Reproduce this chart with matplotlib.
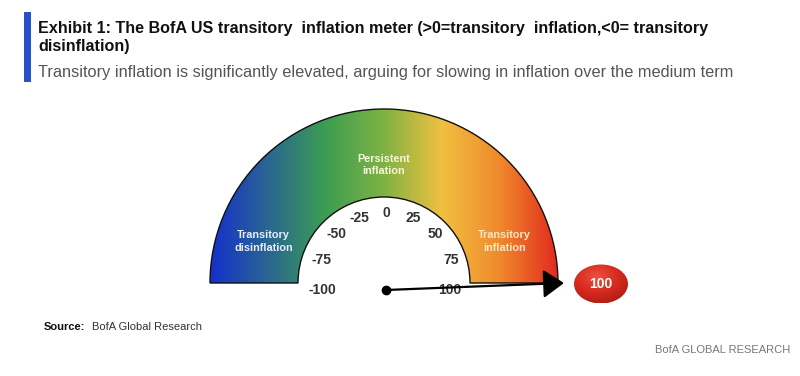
import numpy as np
import matplotlib
matplotlib.use("Agg")
import matplotlib.pyplot as plt
from matplotlib.patches import Wedge, Ellipse, Rectangle, FancyArrowPatch
from matplotlib.colors import LinearSegmentedColormap

# --- data ---
meter_value = 100
tick_values = [-100, -75, -50, -25, 0, 25, 50, 75, 100]
region_labels = ["Transitory\ndisinflation", "Persistent\ninflation", "Transitory\ninflation"]
region_values = [-78, 0, 78]
gradient_stops = ["#1530cc", "#2a6690", "#3c9e52", "#7fb244", "#f0c040", "#ef8a2c", "#e22a1e"]

title = ("Exhibit 1: The BofA US transitory  inflation meter (>0=transitory  inflation,<0= transitory\n"
         "disinflation)")
subtitle = "Transitory inflation is significantly elevated, arguing for slowing in inflation over the medium term"

FONT = ["Liberation Sans", "DejaVu Sans"]
plt.rcParams["font.family"] = FONT

W, H = 800, 376
fig = plt.figure(figsize=(W / 100, H / 100), dpi=100)
ax = fig.add_axes([0, 0, 1, 1])
ax.set_xlim(0, W)
ax.set_ylim(0, H)
ax.axis("off")


def Y(ypix):
    # pixel row (from top) -> axis y
    return H - ypix


# header
ax.add_patch(Rectangle((24, Y(82)), 7, 70, color="#2a50c8", lw=0))
ax.text(38, Y(21), title, fontsize=11.6, fontweight="bold",
        va="top", ha="left", color="#111111", linespacing=1.25)
ax.text(38, Y(73), subtitle, fontsize=11.8, va="center",
        ha="left", color="#555555")

# gauge geometry
cx, cy = 384, Y(283)
R_out, R_in = 174, 86


def val_to_angle(v):
    return np.deg2rad(90 - v * 0.9)


cmap = LinearSegmentedColormap.from_list("meter", gradient_stops)
grad = np.tile(np.linspace(0, 1, 256), (2, 1))
img = ax.imshow(grad, cmap=cmap, aspect="auto",
                extent=(cx - R_out, cx + R_out, cy, cy + R_out), zorder=1)
band = Wedge((cx, cy), R_out, 0, 180, width=R_out - R_in, facecolor="none",
             edgecolor="none")
ax.add_patch(band)
img.set_clip_path(band)
ax.add_patch(Wedge((cx, cy), R_out, 0, 180, width=R_out - R_in, facecolor="none",
                   edgecolor="#111111", lw=1.0, zorder=2))

# region labels
region_r = [128, 118, 128]
region_colors = ["#e8ecff", "#f4f8d8", "#fde6c8"]
for lab, v, rr, c in zip(region_labels, region_values, region_r, region_colors):
    a = val_to_angle(v)
    ax.text(cx + rr * np.cos(a), cy + rr * np.sin(a) + (0 if v == 0 else -2), lab,
            ha="center", va="center", fontsize=7.8, fontweight="bold",
            color=c, linespacing=1.3, zorder=3)

# tick labels inside the arc
for v in tick_values:
    a = val_to_angle(v)
    rr = 70 if abs(v) < 100 else 64
    dy = -7 if abs(v) == 100 else (-4 if abs(v) == 75 else 0)
    ax.text(cx + rr * np.cos(a) + 2, cy + rr * np.sin(a) + dy, str(v),
            ha="center", va="center", fontsize=10, fontweight="bold",
            color="#333333", zorder=3)

# pointer
pivot = (386, Y(290))
a = val_to_angle(meter_value)
tip = (cx + 180 * np.cos(a), cy + 180 * np.sin(a))
ax.add_patch(FancyArrowPatch(pivot, tip, arrowstyle="-|>,head_length=8,head_width=5.5",
                             mutation_scale=1.6, color="black", lw=1.6,
                             shrinkA=0, shrinkB=0, zorder=4))
ax.plot(*pivot, "o", color="black", ms=6, zorder=5)

# value badge
bx, by, bw, bh = 601, Y(284), 54, 39
badge = Ellipse((bx, by), bw, bh, facecolor="none", edgecolor="none")
ax.add_patch(badge)
yy, xx = np.mgrid[-1:1:80j, -1:1:80j]
rad = np.sqrt((xx + 0.15) ** 2 + (yy - 0.35) ** 2)
bcmap = LinearSegmentedColormap.from_list("badge", ["#ef5040", "#d62a1f", "#a8180f"])
bimg = ax.imshow(rad, cmap=bcmap, vmin=0, vmax=1.6, aspect="auto",
                 extent=(bx - bw / 2, bx + bw / 2, by - bh / 2, by + bh / 2),
                 origin="lower", zorder=5)
bimg.set_clip_path(badge)
ax.text(bx, by, str(meter_value), ha="center", va="center", fontsize=10,
        fontweight="bold", color="white", zorder=6)

# footer
ax.text(44, Y(327), "Source:", fontsize=8, fontweight="bold",
        ha="left", va="center", color="#111111")
ax.text(92, Y(327), "BofA Global Research", fontsize=8,
        ha="left", va="center", color="#333333")
ax.text(790, Y(350), "BofA GLOBAL RESEARCH", fontsize=8,
        ha="right", va="center", color="#777777")

fig.savefig("out.png", dpi=100)
